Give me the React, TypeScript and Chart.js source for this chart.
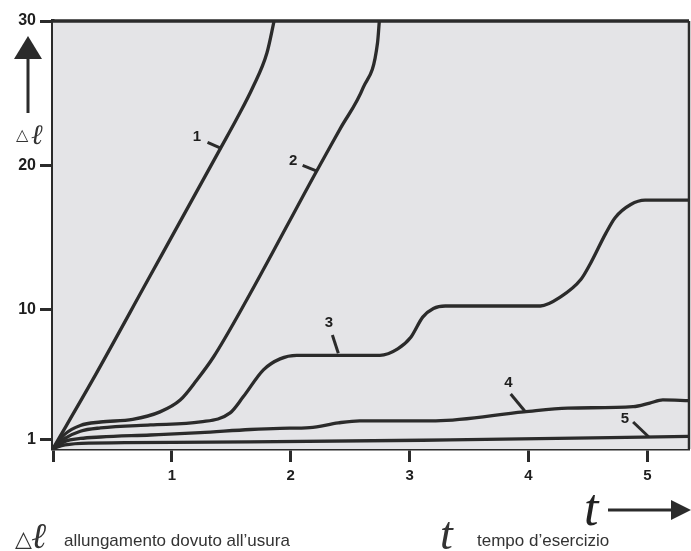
import React, { useEffect, useRef } from "react";
import { Chart, registerables } from "chart.js";

Chart.register(...registerables);

// ---- data (t = operating time, v = wear elongation) ----
const xTicks = [0, 1, 2, 3, 4, 5];
const yTicks = [1, 10, 20, 30];

const curve1T = [0, 0.33, 0.8, 1.41, 1.55, 1.68, 1.8, 1.86];
const curve1V = [0.4, 5.1, 12.1, 21.2, 23.3, 25.4, 27.8, 30];

const curve2T = [0, 0.1, 0.23, 0.4, 0.67, 0.9, 1.07, 1.21, 1.35, 1.63, 2.21, 2.42, 2.61, 2.73, 2.745];
const curve2V = [0.4, 1.4, 2.0, 2.24, 2.42, 2.94, 3.76, 5.15, 6.74, 10.7, 19.5, 22.6, 25.4, 28.5, 30];

const curve3T = [0, 0.1, 0.23, 0.4, 0.82, 1.24, 1.49, 1.6, 1.77, 1.91, 2.05, 2.75, 2.9, 3.01, 3.11, 3.2, 3.3, 4.1, 4.27, 4.44, 4.52, 4.65, 4.73, 4.86, 4.98, 5.35];
const curve3V = [0.4, 1.1, 1.6, 1.83, 2.04, 2.24, 2.87, 3.98, 5.85, 6.61, 6.85, 6.85, 7.3, 8.1, 9.5, 10.1, 10.27, 10.27, 10.9, 12.1, 13.2, 15.3, 16.4, 17.3, 17.6, 17.6];

const curve4T = [0, 0.1, 0.23, 0.4, 0.82, 1.24, 1.66, 1.91, 2.16, 2.4, 2.58, 3.22, 3.96, 4.33, 4.88, 5.02, 5.13, 5.35];
const curve4V = [0.4, 0.9, 1.1, 1.2, 1.34, 1.5, 1.72, 1.8, 1.85, 2.18, 2.32, 2.32, 2.94, 3.2, 3.3, 3.55, 3.77, 3.72];

const curve5T = [0, 0.1, 0.3, 1.66, 3.34, 5.35];
const curve5V = [0.4, 0.65, 0.78, 0.86, 1.0, 1.24];

const curveNames = ["1", "2", "3", "4", "5"];
const labelTextT = [1.21, 2.02, 2.32, 3.83, 4.81];
const labelTextV = [22.0, 20.3, 9.1, 4.94, 2.45];
const leaderStartT = [1.3, 2.1, 2.35, 3.85, 4.88];
const leaderStartV = [21.6, 20.0, 8.26, 4.18, 2.24];
const leaderEndT = [1.41, 2.22, 2.4, 3.97, 5.01];
const leaderEndV = [21.2, 19.6, 7.0, 2.98, 1.22];

const yAxisSymbol = "△";
const yAxisLetter = "ℓ";
const xAxisLetter = "t";
const legendY = "allungamento dovuto all’usura";
const legendT = "tempo d’esercizio";

const INK = "#2b2b2b";

function toPoints(ts: number[], vs: number[]) {
  return ts.map((t, i) => ({ x: t, y: vs[i] }));
}

const decorPlugin = {
  id: "decor",
  beforeDatasetsDraw(chart: any) {
    const { ctx, chartArea: a } = chart;
    ctx.save();
    ctx.fillStyle = "#e4e4e7";
    ctx.fillRect(a.left, a.top, a.right - a.left, a.bottom - a.top);
    ctx.restore();
  },
  afterDraw(chart: any) {
    const { ctx, chartArea: a, scales } = chart;
    const xs = scales.x;
    const ys = scales.y;
    ctx.save();
    // top and right frame
    ctx.strokeStyle = INK;
    ctx.lineWidth = 3.5;
    ctx.beginPath();
    ctx.moveTo(a.left, a.top);
    ctx.lineTo(a.right, a.top);
    ctx.stroke();
    ctx.lineWidth = 2.5;
    ctx.beginPath();
    ctx.moveTo(a.right, a.top);
    ctx.lineTo(a.right, a.bottom);
    ctx.stroke();

    // curve labels and leaders
    ctx.lineWidth = 3;
    ctx.lineCap = "butt";
    for (let i = 0; i < curveNames.length; i++) {
      ctx.beginPath();
      ctx.moveTo(xs.getPixelForValue(leaderStartT[i]), ys.getPixelForValue(leaderStartV[i]));
      ctx.lineTo(xs.getPixelForValue(leaderEndT[i]), ys.getPixelForValue(leaderEndV[i]));
      ctx.stroke();
      ctx.fillStyle = "#1e1e1e";
      ctx.font = "bold 15px 'Liberation Sans', Arial, sans-serif";
      ctx.textAlign = "center";
      ctx.textBaseline = "middle";
      ctx.fillText(curveNames[i], xs.getPixelForValue(labelTextT[i]), ys.getPixelForValue(labelTextV[i]));
    }

    // y-axis arrow
    ctx.fillStyle = INK;
    ctx.strokeStyle = INK;
    ctx.lineWidth = 3;
    ctx.beginPath();
    ctx.moveTo(28, 58);
    ctx.lineTo(28, 113);
    ctx.stroke();
    ctx.beginPath();
    ctx.moveTo(28, 36);
    ctx.lineTo(42, 59);
    ctx.lineTo(14, 59);
    ctx.closePath();
    ctx.fill();

    ctx.fillStyle = "#333";
    ctx.textBaseline = "alphabetic";
    ctx.textAlign = "left";
    ctx.font = "16px 'DejaVu Sans', sans-serif";
    ctx.fillText(yAxisSymbol, 16, 140);
    ctx.font = "italic 28px 'DejaVu Serif', serif";
    ctx.fillText(yAxisLetter, 31, 144);

    // x-axis arrow with t
    ctx.fillStyle = "#222";
    ctx.font = "italic 52px 'Liberation Serif', serif";
    ctx.fillText(xAxisLetter, 584, 525);
    ctx.strokeStyle = INK;
    ctx.lineWidth = 3;
    ctx.beginPath();
    ctx.moveTo(608, 510);
    ctx.lineTo(675, 510);
    ctx.stroke();
    ctx.fillStyle = INK;
    ctx.beginPath();
    ctx.moveTo(691, 510);
    ctx.lineTo(671, 500);
    ctx.lineTo(671, 520);
    ctx.closePath();
    ctx.fill();

    // bottom legend
    ctx.fillStyle = "#333";
    ctx.font = "22px 'DejaVu Sans', sans-serif";
    ctx.fillText(yAxisSymbol, 15, 546);
    ctx.font = "italic 36px 'DejaVu Serif', serif";
    ctx.fillText(yAxisLetter, 31, 548);
    ctx.font = "17px 'Liberation Sans', Arial, sans-serif";
    ctx.fillText(legendY, 64, 546);
    ctx.font = "italic 46px 'Liberation Serif', serif";
    ctx.fillText(xAxisLetter, 440, 549);
    ctx.font = "17px 'Liberation Sans', Arial, sans-serif";
    ctx.fillText(legendT, 477, 546);
    ctx.restore();
  },
};

export default function App() {
  const ref = useRef<HTMLCanvasElement | null>(null);

  useEffect(() => {
    if (!ref.current) return;
    const mk = (ts: number[], vs: number[]) => ({
      data: toPoints(ts, vs),
      borderColor: INK,
      borderWidth: 3.3,
      pointRadius: 0,
      fill: false,
      cubicInterpolationMode: "monotone" as const,
      borderCapStyle: "round" as const,
    });
    const chart = new Chart(ref.current, {
      type: "line",
      data: {
        datasets: [
          mk(curve1T, curve1V),
          mk(curve2T, curve2V),
          mk(curve3T, curve3V),
          mk(curve4T, curve4V),
          mk(curve5T, curve5V),
        ],
      },
      options: {
        responsive: false,
        animation: false,
        devicePixelRatio: 1,
        layout: { padding: { top: 21, right: 2, left: 0, bottom: 0 } },
        plugins: { legend: { display: false }, tooltip: { enabled: false } },
        scales: {
          x: {
            type: "linear",
            min: 0,
            max: 5.35,
            afterBuildTicks: (s: any) => {
              s.ticks = xTicks.map((v) => ({ value: v }));
            },
            afterFit: (s: any) => {
              s.height = 102;
            },
            ticks: {
              callback: (v: any) => (v === 0 ? "" : String(v)),
              color: "#1e1e1e",
              font: { family: "'Liberation Sans', Arial, sans-serif", size: 15, weight: "bold" },
              padding: 5,
              maxRotation: 0,
            },
            grid: { drawOnChartArea: false, drawTicks: true, tickLength: 13, tickWidth: 3, tickColor: INK },
            border: { display: true, color: INK, width: 3.5 },
          },
          y: {
            type: "linear",
            min: 0.37,
            max: 30,
            afterBuildTicks: (s: any) => {
              s.ticks = yTicks.map((v) => ({ value: v }));
            },
            afterFit: (s: any) => {
              s.width = 53;
            },
            ticks: {
              color: "#1e1e1e",
              font: { family: "'Liberation Sans', Arial, sans-serif", size: 16, weight: "bold" },
              padding: 4,
            },
            grid: { drawOnChartArea: false, drawTicks: true, tickLength: 13, tickWidth: 3, tickColor: INK },
            border: { display: true, color: INK, width: 3.5 },
          },
        },
      },
      plugins: [decorPlugin],
    });
    return () => chart.destroy();
  }, []);

  return (
    <div style={{ position: "fixed", left: 0, top: 0, width: 691, height: 551, background: "#fff" }}>
      <canvas ref={ref} width={691} height={551} style={{ display: "block" }} />
    </div>
  );
}
